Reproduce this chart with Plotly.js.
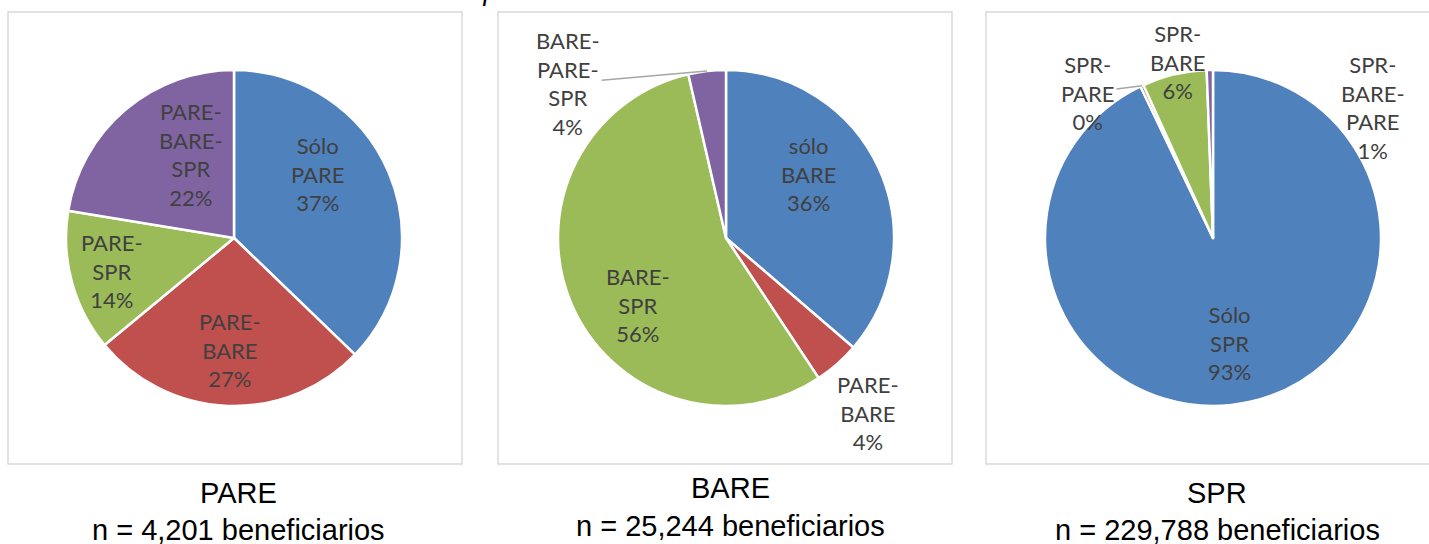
<!DOCTYPE html>
<html>
<head>
<meta charset="utf-8">
<script src="https://cdn.plot.ly/plotly-3.0.1.min.js"></script>
<style>
  html, body { margin: 0; padding: 0; background: white; }
  #chart { width: 1429px; height: 544px; }
</style>
</head>
<body>
<div id="chart"></div>
<script>
// Data for the three pies
var pareLabels = ['Sólo<br>PARE', 'PARE-<br>BARE', 'PARE-<br>SPR', 'PARE-<br>BARE-<br>SPR'];
var pareValues = [37.2, 26.8, 13.6, 22.4];

var bareLabels = ['sólo<br>BARE', 'PARE-<br>BARE', 'BARE-<br>SPR', 'BARE-<br>PARE-<br>SPR'];
var bareValues = [36.3, 4.4, 55.7, 3.6];

var sprLabels = ['Sólo<br>SPR', 'SPR-<br>PARE', 'SPR-<br>BARE', 'SPR-<br>BARE-<br>PARE'];
var sprValues = [92.9, 0.3, 6.2, 0.6];

var panelNames = ['PARE', 'BARE', 'SPR'];
var panelCounts = ['n = 4,201 beneficiarios', 'n = 25,244 beneficiarios', 'n = 229,788 beneficiarios'];

var sliceColors = ['#4F81BD', '#C0504D', '#9BBB59', '#8064A2'];

var W = 1429, H = 544;
function px(x) { return x / W; }
function py(y) { return 1 - y / H; }

// pie centres (pixels) and radius
var centers = [234, 726, 1213];
var cy = 238, R = 168;

var labelFont = { family: 'Lato, "Noto Sans", sans-serif', size: 22, color: '#404040' };

function makePie(labels, values, cx) {
  return {
    type: 'pie',
    labels: labels,
    values: values,
    sort: false,
    direction: 'clockwise',
    rotation: 0,
    textinfo: 'none',
    marker: { colors: sliceColors, line: { color: 'white', width: 2.5 } },
    domain: { x: [px(cx - R), px(cx + R)], y: [py(cy + R), py(cy - R)] },
    showlegend: false
  };
}

var data = [
  makePie(pareLabels, pareValues, centers[0]),
  makePie(bareLabels, bareValues, centers[1]),
  makePie(sprLabels, sprValues, centers[2])
];

// angle (radians, clockwise from 12 o'clock) of a slice's middle
function midAngle(values, i) {
  var total = values.reduce(function (a, b) { return a + b; }, 0);
  var before = 0;
  for (var k = 0; k < i; k++) before += values[k];
  return (before + values[i] / 2) / total * 2 * Math.PI;
}
function pctText(labels, values, i) {
  var total = values.reduce(function (a, b) { return a + b; }, 0);
  return labels[i] + '<br>' + Math.round(values[i] / total * 100) + '%';
}

// label inside the slice: rf = fraction of radius, da = angle tweak in degrees
function insideLabel(labels, values, cx, i, rf, da) {
  var a = midAngle(values, i) + da * Math.PI / 180;
  return {
    text: pctText(labels, values, i),
    xref: 'paper', yref: 'paper',
    x: px(cx + rf * R * Math.sin(a)), y: py(cy - rf * R * Math.cos(a)),
    xanchor: 'center', yanchor: 'middle',
    showarrow: false, font: labelFont, align: 'center'
  };
}

// label outside: anchored on the slice's outer edge, text pushed off by dx, dy pixels
function outsideLabel(labels, values, cx, i, dx, dy, leader) {
  var a = midAngle(values, i);
  return {
    text: pctText(labels, values, i),
    xref: 'paper', yref: 'paper',
    x: px(cx + R * Math.sin(a)), y: py(cy - R * Math.cos(a)),
    showarrow: true, ax: dx, ay: dy,
    arrowhead: 0, arrowwidth: 1.5,
    arrowcolor: leader ? '#A6A6A6' : 'rgba(0,0,0,0)',
    font: labelFont, align: 'center'
  };
}

// panel borders
var boxes = [[8, 462], [498, 952], [986, 1440]];
var shapes = boxes.map(function (b) {
  return {
    type: 'rect', xref: 'paper', yref: 'paper',
    x0: px(b[0]), x1: px(b[1]), y0: py(464), y1: py(12),
    line: { color: '#D9D9D9', width: 1.5 }
  };
});

var titleFont = { family: '"Liberation Sans", Arial, sans-serif', size: 29, color: '#000000' };
var nameY = [493, 488, 493];
var countY = [530, 526, 530];
var annotations = [];
for (var i = 0; i < 3; i++) {
  annotations.push({
    text: panelNames[i], xref: 'paper', yref: 'paper',
    x: px(centers[i] + 4), y: py(nameY[i]), xanchor: 'center', yanchor: 'middle',
    showarrow: false, font: titleFont
  });
  annotations.push({
    text: panelCounts[i], xref: 'paper', yref: 'paper',
    x: px(centers[i] + 4), y: py(countY[i]), xanchor: 'center', yanchor: 'middle',
    showarrow: false, font: titleFont
  });
}

// PARE pie
annotations.push(insideLabel(pareLabels, pareValues, centers[0], 0, 0.63, -14));
annotations.push(insideLabel(pareLabels, pareValues, centers[0], 1, 0.67, 0));
annotations.push(insideLabel(pareLabels, pareValues, centers[0], 2, 0.75, 0));
annotations.push(insideLabel(pareLabels, pareValues, centers[0], 3, 0.56, 13));
// BARE pie
annotations.push(insideLabel(bareLabels, bareValues, centers[1], 0, 0.62, -13));
annotations.push(outsideLabel(bareLabels, bareValues, centers[1], 1, 31, 49, false));
annotations.push(insideLabel(bareLabels, bareValues, centers[1], 2, 0.66, -14));
annotations.push(outsideLabel(bareLabels, bareValues, centers[1], 3, -139, 12, true));
// SPR pie
annotations.push(insideLabel(sprLabels, sprValues, centers[2], 0, 0.63, 4));
annotations.push(outsideLabel(sprLabels, sprValues, centers[2], 1, -54, 7, true));
annotations.push(outsideLabel(sprLabels, sprValues, centers[2], 2, 3, -13, false));
annotations.push(outsideLabel(sprLabels, sprValues, centers[2], 3, 163, 37, false));

// chart title, mostly cut off at the top edge
annotations.push({
  text: 'Gráfica 4. Complementariedad de beneficiarios entre incentivos',
  xref: 'paper', yref: 'paper', x: px(300), y: 1,
  xanchor: 'left', yanchor: 'bottom', yshift: -8,
  showarrow: false,
  font: { family: '"Liberation Sans", Arial, sans-serif', size: 27, color: '#000000', style: 'italic' }
});

var layout = {
  width: W,
  height: H,
  margin: { l: 0, r: 0, t: 0, b: 0 },
  paper_bgcolor: 'white',
  plot_bgcolor: 'white',
  shapes: shapes,
  annotations: annotations
};

Plotly.newPlot('chart', data, layout, { displayModeBar: false, staticPlot: true });
</script>
</body>
</html>
